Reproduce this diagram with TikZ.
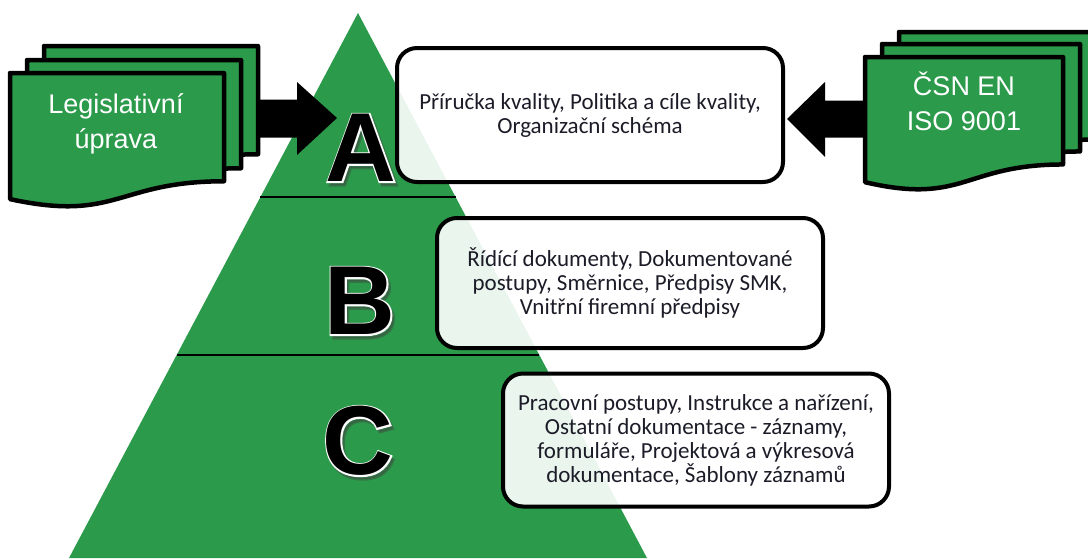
\documentclass[tikz,border=0pt]{standalone}
\usepackage{fontspec}
\setmainfont{Carlito}
\newfontfamily\docfont{Liberation Sans}
\newfontfamily\letterfont{Liberation Sans Bold}
\newfontfamily\letterhalo{Liberation Sans Bold}[FakeBold=3]
\usetikzlibrary{calc}
\definecolor{pgreen}{RGB}{43,154,74}
\definecolor{boxtext}{RGB}{28,28,40}

% a stacked "document" sheet with a wavy lower edge: x, y, width, height
\newcommand\docsheet[4]{%
  \filldraw[sheet] (#1,#2) -- (#1+#3,#2) -- (#1+#3,#2+0.802*#4)
    .. controls (#1+0.5*#3,#2+0.802*#4) and (#1+0.5*#3,#2+1.107*#4) .. (#1,#2+0.934*#4)
    -- cycle;}

% big level letter: soft drop shadow, white halo, black letter
\newcommand\levelletter[3]{%
  \node[bigletter, font=\letterhalo\fontsize{98}{98}\selectfont, text=black!75,
        text opacity=0.4, xshift=2.5pt, yshift=-3.5pt] at (#2) {#3};
  \node[bigletter, font=\letterhalo\fontsize{98}{98}\selectfont, text=white] at (#2) {#3};
  \node[bigletter, text=black] (#1) at (#2) {#3};}

\tikzset{
  sheet/.style={fill=pgreen, draw=black, line width=4.5pt, line join=round},
  doctext/.style={text=white, font=\docfont\fontsize{27}{35}\selectfont, align=center, inner sep=0pt},
  bigletter/.style={font=\letterfont\fontsize{98}{98}\selectfont, inner sep=0pt},
  infobox/.style={draw=black, line width=4pt, rounded corners=20pt, fill=white,
    fill opacity=0.9, text opacity=1, text=boxtext, align=center,
    font=\fontsize{23}{24}\selectfont, minimum width=386pt, inner sep=0pt},
  blockarrow/.style={fill=black},
  levelline/.style={draw=black, line width=2.8pt},
}

\begin{document}
\begin{tikzpicture}[x=1pt, y=-1pt]
\useasboundingbox (0,0) rectangle (1088,558);

% pyramid
\coordinate (apex) at (358,13);
\coordinate (bl) at (69,558);
\coordinate (br) at (647,558);
\fill[pgreen] (apex) -- (bl) -- (br) -- cycle;

% level separators
\draw[levelline] ($(apex)!0.3376!(bl)$) -- ($(apex)!0.3376!(br)$);
\draw[levelline] ($(apex)!0.6275!(bl)$) -- ($(apex)!0.6275!(br)$);

% block arrows from the source documents
\coordinate (arrLs) at (250,118);
\coordinate (arrLe) at (337,118);
\fill[blockarrow] (arrLs) ++(0,-18.5) -- ++(47,0) -- ++(0,-17.5) -- (arrLe)
  -- ++(-40,37) -- ++(0,-17.5) -- ++(-47,0) -- cycle;
\coordinate (arrRs) at (870,119);
\coordinate (arrRe) at (787,119);
\fill[blockarrow] (arrRs) ++(0,-18.5) -- ++(-45,0) -- ++(0,-18.5) -- (arrRe)
  -- ++(38,38) -- ++(0,-19.5) -- ++(45,0) -- cycle;

% left document stack
\docsheet{44}{46}{214}{135}
\docsheet{27}{60}{214}{135}
\docsheet{10}{73}{214}{135}
\node[doctext] (leg) at (116,124) {Legislativní\\úprava};

% right document stack
\docsheet{899}{32}{198}{134}
\docsheet{882}{44}{198}{134}
\docsheet{865}{57}{198}{134}
\node[doctext] (iso) at (964,101) {ČSN EN\\ISO 9001};

% level letters
\levelletter{letA}{361,148}{A}
\levelletter{letB}{360,301}{B}
\levelletter{letC}{358,441}{C}

% description boxes
\node[infobox, minimum height=134pt] (boxA) at (590,115)
  {Příručka kvality, Politika a cíle kvality,\\Organizační schéma};
\node[infobox, minimum height=130pt] (boxB) at (630,283)
  {Řídící dokumenty, Dokumentované\\postupy, Směrnice, Předpisy SMK,\\Vnitřní firemní předpisy};
\node[infobox, minimum height=133pt] (boxC) at (696,440)
  {Pracovní postupy, Instrukce a nařízení,\\Ostatní dokumentace - záznamy,\\formuláře, Projektová a výkresová\\dokumentace, Šablony záznamů};
\end{tikzpicture}
\end{document}
